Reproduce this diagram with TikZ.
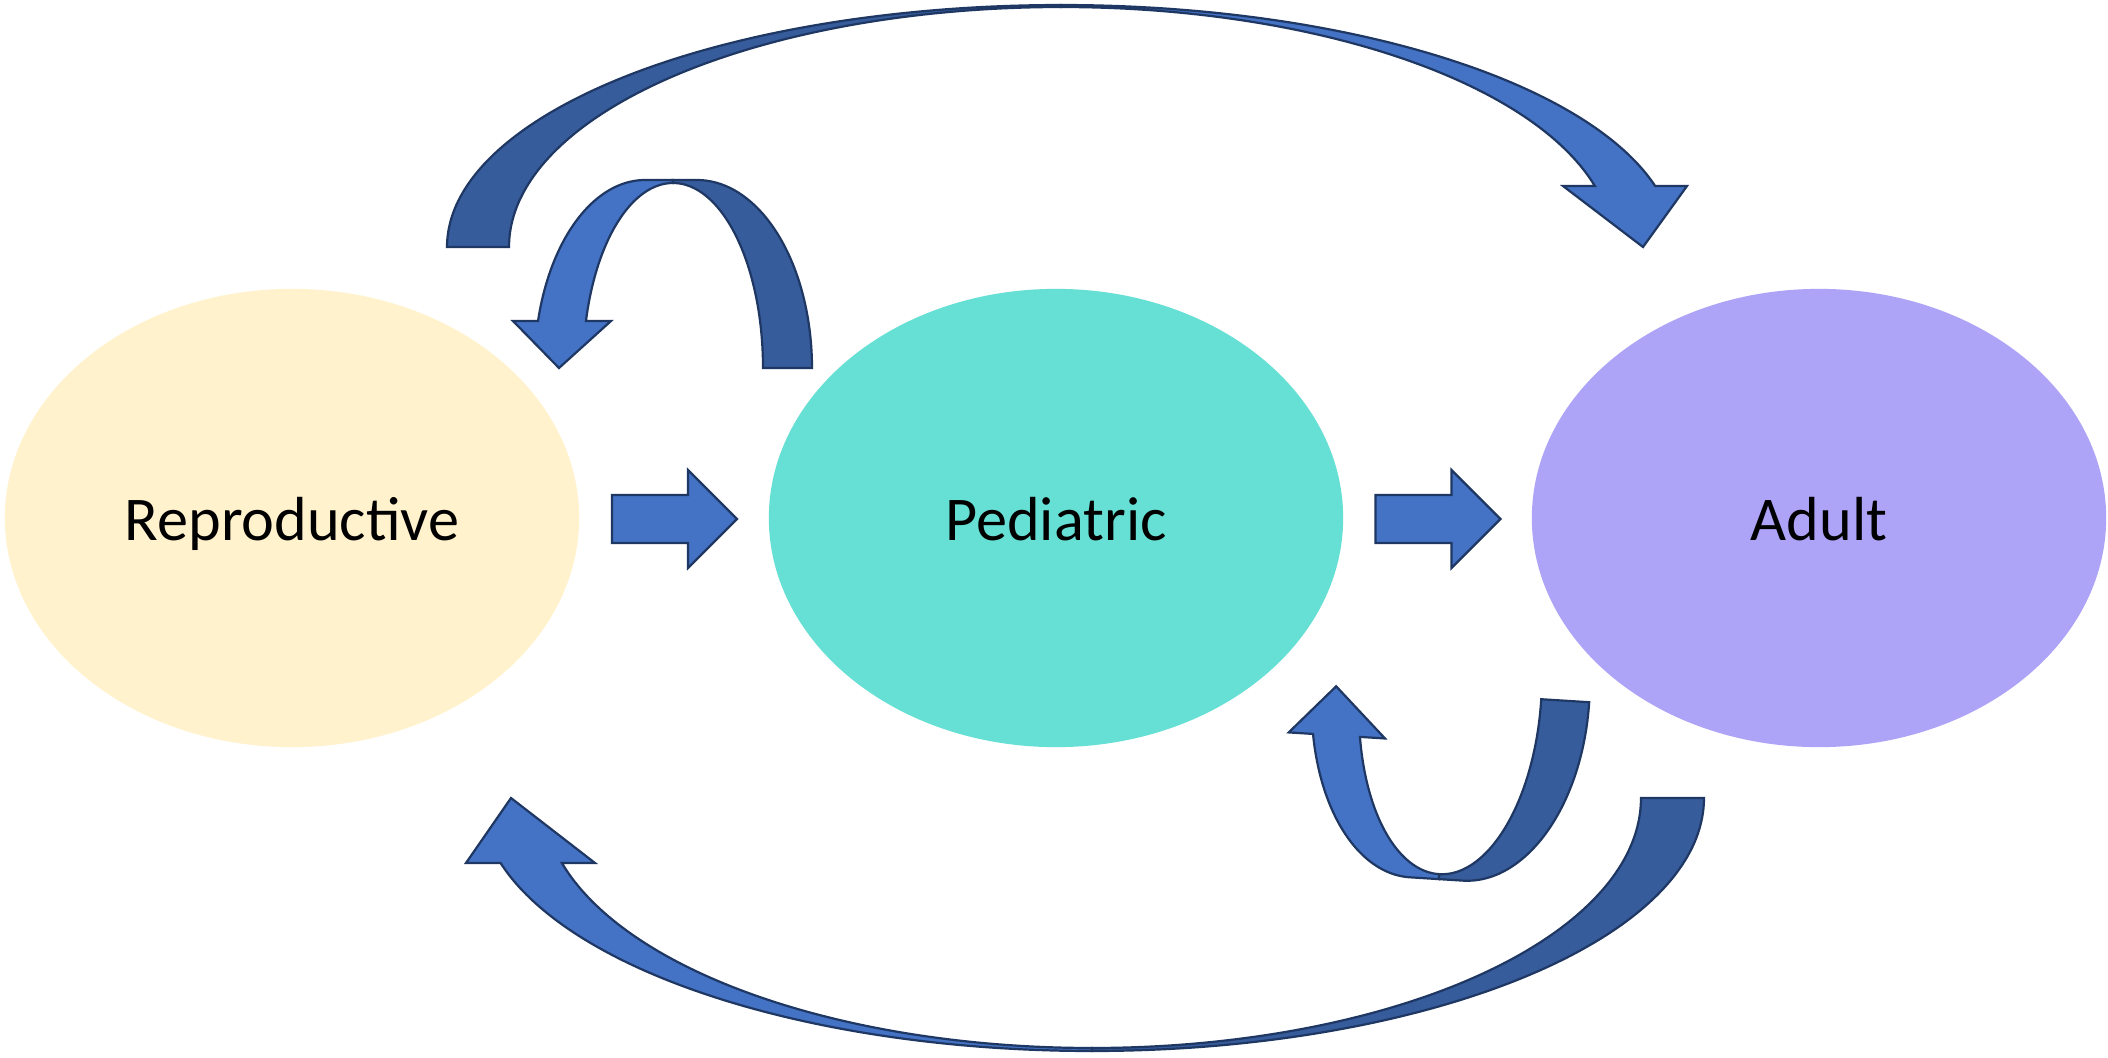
\documentclass[tikz,border=0pt]{standalone}
\usepackage{fontspec}
\setmainfont{Carlito}
\usetikzlibrary{shapes.geometric,calc}
\definecolor{lightarrow}{HTML}{4472C4}
\definecolor{darkarrow}{HTML}{365C9C}
\definecolor{outlinecol}{HTML}{1F3763}
\definecolor{reprofill}{HTML}{FFF2CC}
\definecolor{pedfill}{HTML}{66DFD4}
\definecolor{adultfill}{HTML}{ADA4F7}
\begin{document}
\begin{tikzpicture}[x=0.01cm,y=-0.01cm,
  stage/.style={ellipse, inner sep=0pt, outer sep=0pt, minimum width=5.74cm, minimum height=4.58cm},
  lbl/.style={font=\fontsize{17.7}{20}\selectfont, anchor=base, inner sep=0pt, text=black},
  front/.style={fill=lightarrow, draw=outlinecol, line width=0.022cm, line join=miter},
  back/.style={fill=darkarrow, draw=outlinecol, line width=0.022cm, line join=miter},
  blockarrow/.style={fill=lightarrow, draw=outlinecol, line width=0.022cm, line join=miter}
  ]
\fill[white] (0,0) rectangle (2108,1057);
\useasboundingbox (0,0) rectangle (2108,1057);

% stages
\node[stage, fill=reprofill] (repro) at (292,518) {};
\node[stage, fill=pedfill] (ped) at (1056,518) {};
\node[stage, fill=adultfill] (adult) at (1819,518) {};
\node[lbl] (reprotext) at ($(repro.center)+(0,22)$) {Reproductive};
\node[lbl] (pedtext) at ($(ped.center)+(0,22)$) {Pediatric};
\node[lbl] (adulttext) at ($(adult.center)+(0,22)$) {Adult};

% straight block arrows
\coordinate (m1) at ($(repro.east)!0.5!(ped.west)+(0,1)$);
\coordinate (m2) at ($(ped.east)!0.5!(adult.west)+(0,1)$);
\foreach \m in {m1,m2}{
  \draw[blockarrow] ($(\m)+(-62,-24)$) -- ($(\m)+(14,-24)$) -- ($(\m)+(14,-49)$)
    -- ($(\m)+(63,0)$) -- ($(\m)+(14,49)$) -- ($(\m)+(14,24)$) -- ($(\m)+(-62,24)$) -- cycle;
}

% top big curved arrow: Reproductive -> Adult
\filldraw[back] (447,247)
  -- plot[domain=180:90, samples=100] ({1061+614*cos(\x)},{247-242*sin(\x)})
  -- plot[domain=90:180, samples=100] ({1061+552*cos(\x)},{247-240*sin(\x)})
  -- cycle;
\filldraw[front]
  plot[domain=90:14.6, samples=100] ({1061+614*cos(\x)},{247-242*sin(\x)})
  -- (1687,186) -- (1643,247) -- (1563,186)
  -- plot[domain=14.72:90, samples=100] ({1061+552*cos(\x)},{247-240*sin(\x)})
  -- cycle;

% bottom big curved arrow: Adult -> Reproductive
\filldraw[back]
  plot[domain=90:0, samples=100] ({1092+612*cos(\x)},{798+253*sin(\x)})
  -- plot[domain=0:90, samples=100] ({1092+549*cos(\x)},{798+250*sin(\x)})
  -- cycle;
\filldraw[front]
  plot[domain=90:165.11, samples=100] ({1092+612*cos(\x)},{798+253*sin(\x)})
  -- (466,863) -- (511,798) -- (595,863)
  -- plot[domain=164.93:90, samples=100] ({1092+549*cos(\x)},{798+250*sin(\x)})
  -- cycle;

% small top curved arrow: Pediatric -> Reproductive
\filldraw[back] (673,180) -- (697,180)
  -- plot[domain=90:0, samples=60] ({697+115*cos(\x)},{368-188*sin(\x)})
  -- plot[domain=0:90, samples=60] ({673+90*cos(\x)},{368-185*sin(\x)})
  -- cycle;
\filldraw[front] (673,180) -- (645,180)
  -- plot[domain=90:165.52, samples=60] ({645+110.5*cos(\x)},{368-188*sin(\x)})
  -- (513,321) -- (559,368) -- (611,321)
  -- plot[domain=165.28:90, samples=60] ({673+90*cos(\x)},{368-185*sin(\x)})
  -- cycle;

% small bottom curved arrow: Adult -> Pediatric
\begin{scope}[rotate around={-3.6:(1440,780)}]
\filldraw[back] (1445,879) -- (1469,879)
  -- plot[domain=90:0, samples=60] ({1469+115*cos(\x)},{693+186*sin(\x)})
  -- plot[domain=0:90, samples=60] ({1445+91*cos(\x)},{693+181*sin(\x)})
  -- cycle;
\filldraw[front] (1445,879) -- (1416,879)
  -- plot[domain=90:164.73, samples=60] ({1416+109.5*cos(\x)},{693+186*sin(\x)})
  -- (1286,742) -- (1330.5,693) -- (1382.5,742)
  -- plot[domain=164.29:90, samples=60] ({1445+91*cos(\x)},{693+181*sin(\x)})
  -- cycle;
\end{scope}
\end{tikzpicture}
\end{document}
